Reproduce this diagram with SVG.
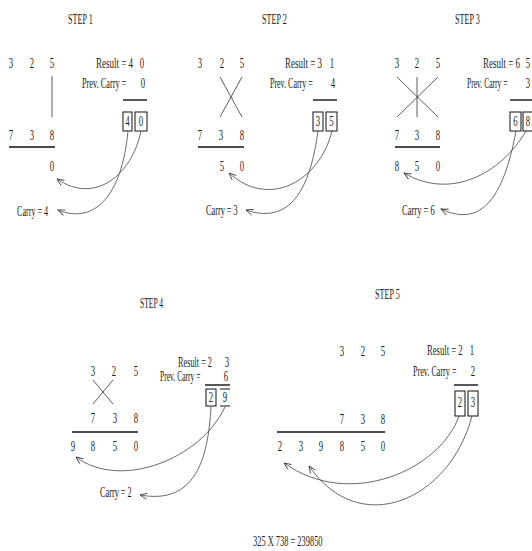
<svg xmlns="http://www.w3.org/2000/svg" width="532" height="551" viewBox="0 0 532 551">
<defs>
<style>
text{font-family:"Liberation Serif","Times New Roman",serif;font-size:14px;fill:#1a1a1a}
.d{text-anchor:middle}
.ln{stroke:#111;stroke-width:1.4;fill:none}
.x{stroke:#333;stroke-width:0.8;fill:none}
.bx{stroke:#111;stroke-width:1;fill:none}
.c{stroke:#444;stroke-width:0.8;fill:none;marker-end:url(#ah)}
</style>
<marker id="ah" viewBox="-9 -5 10 10" markerWidth="10" markerHeight="10" refX="0" refY="0" orient="auto" markerUnits="userSpaceOnUse">
<path d="M-7,-3 L0,0 L-7,3" fill="none" stroke="#444" stroke-width="0.9"/>
</marker>
</defs>
<rect width="532" height="551" fill="#fff"/>

<g id="step1">
<text transform="matrix(.58 0 0 1 68 24)">STEP 1</text>
<text class="d" transform="matrix(.62 0 0 1 11 68)">3</text><text class="d" transform="matrix(.62 0 0 1 32 68)">2</text><text class="d" transform="matrix(.62 0 0 1 52 68)">5</text>
<line class="x" x1="52" y1="76" x2="52" y2="117"/>
<text class="d" transform="matrix(.62 0 0 1 11 140)">7</text><text class="d" transform="matrix(.62 0 0 1 32 140)">3</text><text class="d" transform="matrix(.62 0 0 1 52 140)">8</text>
<line class="ln" x1="9" y1="147" x2="55" y2="147"/>
<text class="d" transform="matrix(.62 0 0 1 52 171)">0</text>
<text transform="matrix(.64 0 0 1 96 68)">Result = 4</text>
<text class="d" transform="matrix(.62 0 0 1 142 68)">0</text>
<text transform="matrix(.59 0 0 1 82 88)">Prev. Carry =</text>
<text class="d" transform="matrix(.62 0 0 1 143 88)">0</text>
<line class="ln" x1="123" y1="100" x2="147" y2="100"/>
<rect class="bx" x="123" y="112" width="9" height="19"/>
<rect class="bx" x="135" y="112" width="12" height="19"/>
<text class="d" transform="matrix(.62 0 0 1 127.5 126)">4</text><text class="d" transform="matrix(.62 0 0 1 141 126)">0</text>
<text transform="matrix(.58 0 0 1 17 216)">Carry = 4</text>
</g>

<g id="step2">
<text transform="matrix(.58 0 0 1 262 24)">STEP 2</text>
<text class="d" transform="matrix(.62 0 0 1 200 68)">3</text><text class="d" transform="matrix(.62 0 0 1 222 68)">2</text><text class="d" transform="matrix(.62 0 0 1 242 68)">5</text>
<line class="x" x1="220" y1="77" x2="242" y2="117"/>
<line class="x" x1="242" y1="77" x2="220" y2="117"/>
<text class="d" transform="matrix(.62 0 0 1 200 140)">7</text><text class="d" transform="matrix(.62 0 0 1 221 140)">3</text><text class="d" transform="matrix(.62 0 0 1 242 140)">8</text>
<line class="ln" x1="198" y1="147" x2="244" y2="147"/>
<text class="d" transform="matrix(.62 0 0 1 222 171)">5</text><text class="d" transform="matrix(.62 0 0 1 242 171)">0</text>
<text transform="matrix(.64 0 0 1 285 68)">Result = 3</text>
<text class="d" transform="matrix(.62 0 0 1 332 68)">1</text>
<text transform="matrix(.57 0 0 1 270 88)">Prev. Carry =</text>
<text class="d" transform="matrix(.62 0 0 1 333 88)">4</text>
<line class="ln" x1="313" y1="100" x2="337" y2="100"/>
<rect class="bx" x="313" y="112" width="10" height="19"/>
<rect class="bx" x="326" y="112" width="11" height="19"/>
<text class="d" transform="matrix(.62 0 0 1 318 126)">3</text><text class="d" transform="matrix(.62 0 0 1 331.5 126)">5</text>
<text transform="matrix(.59 0 0 1 206 215)">Carry = 3</text>
</g>

<g id="step3">
<text transform="matrix(.58 0 0 1 455 24)">STEP 3</text>
<text class="d" transform="matrix(.62 0 0 1 397 68)">3</text><text class="d" transform="matrix(.62 0 0 1 417 68)">2</text><text class="d" transform="matrix(.62 0 0 1 438 68)">5</text>
<line class="x" x1="397" y1="77" x2="438" y2="117"/>
<line class="x" x1="438" y1="77" x2="397" y2="117"/>
<line class="x" x1="417" y1="77" x2="417" y2="117"/>
<text class="d" transform="matrix(.62 0 0 1 397 140)">7</text><text class="d" transform="matrix(.62 0 0 1 417 140)">3</text><text class="d" transform="matrix(.62 0 0 1 438 140)">8</text>
<line class="ln" x1="395" y1="147" x2="440" y2="147"/>
<text class="d" transform="matrix(.62 0 0 1 397 171)">8</text><text class="d" transform="matrix(.62 0 0 1 417 171)">5</text><text class="d" transform="matrix(.62 0 0 1 438 171)">0</text>
<text transform="matrix(.64 0 0 1 483 68)">Result = 6</text>
<text class="d" transform="matrix(.62 0 0 1 528 68)">5</text>
<text transform="matrix(.54 0 0 1 467 88)">Prev. Carry =</text>
<text class="d" transform="matrix(.62 0 0 1 528 88)">3</text>
<line class="ln" x1="510" y1="100" x2="532" y2="100"/>
<rect class="bx" x="510" y="112" width="11" height="19"/>
<rect class="bx" x="523" y="112" width="10" height="19"/>
<text class="d" transform="matrix(.62 0 0 1 515.5 126)">6</text><text class="d" transform="matrix(.62 0 0 1 528 126)">8</text>
<text transform="matrix(.61 0 0 1 402 215)">Carry = 6</text>
</g>

<g id="step4">
<text transform="matrix(.54 0 0 1 140 308)">STEP 4</text>
<text class="d" transform="matrix(.62 0 0 1 93 376)">3</text><text class="d" transform="matrix(.62 0 0 1 114 376)">2</text><text class="d" transform="matrix(.62 0 0 1 136 376)">5</text>
<line class="x" x1="93" y1="380" x2="113" y2="404"/>
<line class="x" x1="113" y1="380" x2="93" y2="404"/>
<text class="d" transform="matrix(.62 0 0 1 93 423)">7</text><text class="d" transform="matrix(.62 0 0 1 115 423)">3</text><text class="d" transform="matrix(.62 0 0 1 136 423)">8</text>
<line class="ln" x1="72" y1="432" x2="138" y2="432"/>
<text class="d" transform="matrix(.62 0 0 1 73 451)">9</text><text class="d" transform="matrix(.62 0 0 1 93 451)">8</text><text class="d" transform="matrix(.62 0 0 1 115 451)">5</text><text class="d" transform="matrix(.62 0 0 1 136 451)">0</text>
<text transform="matrix(.59 0 0 1 178 367)">Result = 2</text>
<text class="d" transform="matrix(.62 0 0 1 227 367)">3</text>
<text transform="matrix(.54 0 0 1 160 381)">Prev. Carry =</text>
<text class="d" transform="matrix(.62 0 0 1 226 381)">6</text>
<line class="ln" x1="205" y1="385" x2="230" y2="385"/>
<rect class="bx" x="206" y="389" width="10" height="17"/>
<text class="d" transform="matrix(.62 0 0 1 211 402)">2</text>
<line class="bx" x1="220" y1="389" x2="230" y2="389"/>
<text class="d" transform="matrix(.62 0 0 1 225 402)">9</text>
<line class="bx" x1="220" y1="406" x2="230" y2="406"/>
<text transform="matrix(.59 0 0 1 100 497)">Carry = 2</text>
</g>

<g id="step5">
<text transform="matrix(.58 0 0 1 375 299)">STEP 5</text>
<text class="d" transform="matrix(.62 0 0 1 342 356)">3</text><text class="d" transform="matrix(.62 0 0 1 363 356)">2</text><text class="d" transform="matrix(.62 0 0 1 383 356)">5</text>
<text class="d" transform="matrix(.62 0 0 1 342 424)">7</text><text class="d" transform="matrix(.62 0 0 1 363 424)">3</text><text class="d" transform="matrix(.62 0 0 1 383 424)">8</text>
<line class="ln" x1="277" y1="432" x2="385" y2="432"/>
<text class="d" transform="matrix(.62 0 0 1 280 451)">2</text><text class="d" transform="matrix(.62 0 0 1 301 451)">3</text><text class="d" transform="matrix(.62 0 0 1 321 451)">9</text><text class="d" transform="matrix(.62 0 0 1 342 451)">8</text><text class="d" transform="matrix(.62 0 0 1 363 451)">5</text><text class="d" transform="matrix(.62 0 0 1 383 451)">0</text>
<text transform="matrix(.62 0 0 1 427 355)">Result = 2</text>
<text class="d" transform="matrix(.62 0 0 1 472 355)">1</text>
<text transform="matrix(.58 0 0 1 413 376)">Prev. Carry =</text>
<text class="d" transform="matrix(.62 0 0 1 473 376)">2</text>
<line class="ln" x1="454" y1="385" x2="478" y2="385"/>
<rect class="bx" x="455" y="391" width="10" height="25"/>
<rect class="bx" x="468" y="391" width="10" height="25"/>
<text class="d" transform="matrix(.62 0 0 1 460 407)">2</text><text class="d" transform="matrix(.62 0 0 1 473 407)">3</text>
</g>

<g id="connectors">
<path class="c" d="M141,131 C132,175 95,205 57,179"/>
<path class="c" d="M128,131 C122,195 95,225 58,210"/>
<path class="c" d="M332,131 C320,180 270,210 229,173"/>
<path class="c" d="M318,131 C310,190 290,225 246,210"/>
<path class="c" d="M526,131 C500,175 450,200 404,173"/>
<path class="c" d="M516,131 C505,190 485,230 441,209"/>
<path class="c" d="M225,407 C200,460 120,490 76,457"/>
<path class="c" d="M211,407 C208,460 195,505 140,495"/>
<path class="c" d="M459,416 C440,470 350,510 284,463"/>
<path class="c" d="M472,416 C450,500 360,540 309,466"/>
</g>

<text id="result" transform="matrix(.6 0 0 1 253 546)">325 X 738 = 239850</text>
</svg>
